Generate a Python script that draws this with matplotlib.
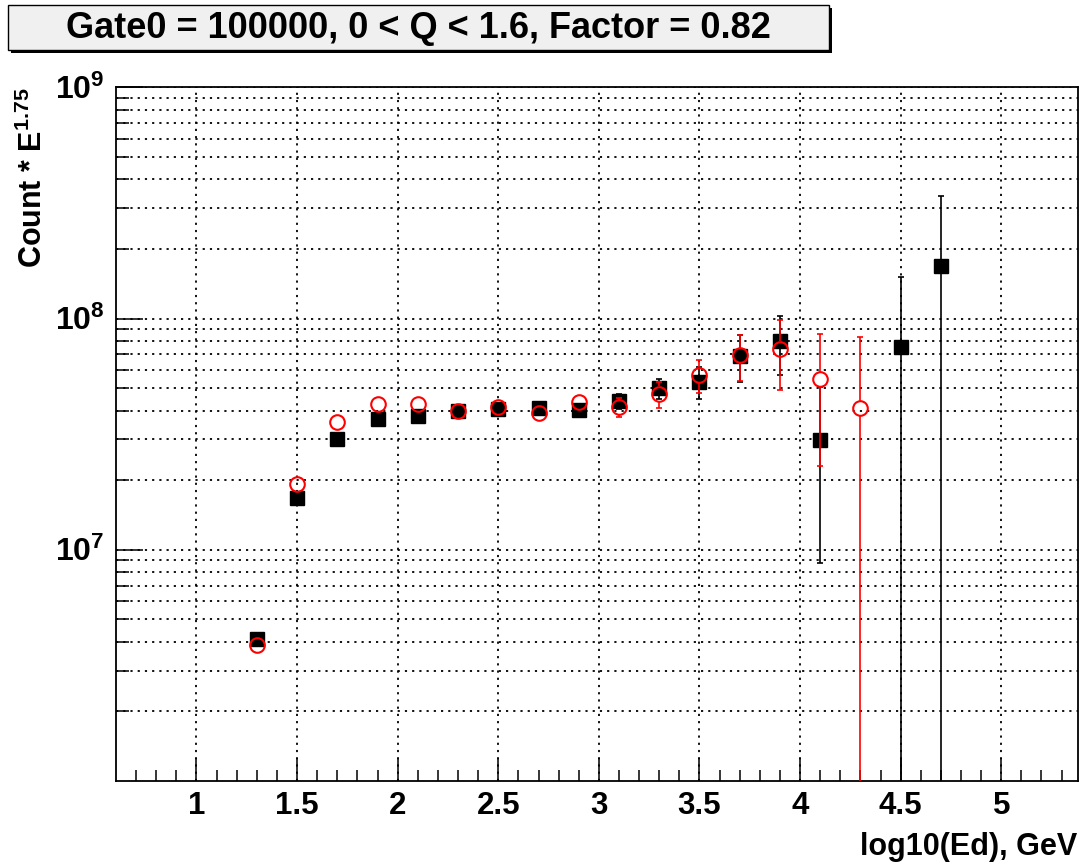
import matplotlib
matplotlib.use('Agg')
import matplotlib.pyplot as plt
import numpy as np
from matplotlib.patches import Rectangle
from matplotlib.ticker import FixedLocator, FixedFormatter, NullFormatter
import matplotlib.transforms as mtransforms

plt.rcParams['font.family'] = ['Liberation Sans', 'DejaVu Sans']
plt.rcParams['font.weight'] = 'bold'
plt.rcParams['mathtext.fontset'] = 'custom'
plt.rcParams['mathtext.rm'] = 'Liberation Sans:bold'
plt.rcParams['mathtext.bf'] = 'Liberation Sans:bold'
plt.rcParams['mathtext.it'] = 'Liberation Sans:bold'

# ---- data ----
x_black = [1.3, 1.5, 1.7, 1.9, 2.1, 2.3, 2.5, 2.7, 2.9, 3.1, 3.3, 3.5, 3.7, 3.9, 4.1, 4.5, 4.7]
y_black = [4.1e6, 1.68e7, 3.0e7, 3.66e7, 3.77e7, 3.98e7, 4.08e7, 4.1e7, 4.04e7, 4.4e7,
           5.0e7, 5.33e7, 6.9e7, 8.0e7, 2.98e7, 7.5e7, 1.68e8]
err_black = [0.1e6, 0.4e6, 0.6e6, 0.8e6, 0.9e6, 1.0e6, 1.2e6, 1.5e6, 1.8e6, 3.2e6,
             5.0e6, 8.6e6, 1.56e7, 2.3e7, 2.1e7, 7.6e7, 1.71e8]

x_red = [1.3, 1.5, 1.7, 1.9, 2.1, 2.3, 2.5, 2.7, 2.9, 3.1, 3.3, 3.5, 3.7, 3.9, 4.1, 4.3]
y_red = [3.88e6, 1.93e7, 3.58e7, 4.27e7, 4.27e7, 3.97e7, 4.15e7, 3.89e7, 4.35e7, 4.13e7,
         4.72e7, 5.7e7, 6.95e7, 7.4e7, 5.46e7, 4.1e7]
err_red = [0.1e6, 0.4e6, 0.6e6, 0.8e6, 0.9e6, 1.0e6, 1.2e6, 1.4e6, 1.8e6, 3.8e6,
           6.0e6, 9.5e6, 1.56e7, 2.5e7, 3.15e7, 4.2e7]

x_major = [1, 1.5, 2, 2.5, 3, 3.5, 4, 4.5, 5]
x_major_labels = ['1', '1.5', '2', '2.5', '3', '3.5', '4', '4.5', '5']
y_major = [1e7, 1e8, 1e9]
y_major_labels = ['$10^{7}$', '$10^{8}$', '$10^{9}$']

title = 'Gate0 = 100000, 0 < Q < 1.6, Factor = 0.82'
xlabel = 'log10(Ed), GeV'
ylabel = 'Count * E$^{1.75}$'

# ---- figure ----
W, H = 1088, 867
fig = plt.figure(figsize=(W / 100, H / 100), dpi=100)
fig.patch.set_facecolor('white')
ax_l, ax_r, ax_t, ax_b = 116, 1077.7, 87.3, 781
ax = fig.add_axes([ax_l / W, 1 - ax_b / H, (ax_r - ax_l) / W, (ax_b - ax_t) / H])
ax.set_yscale('log')
ax.set_xlim(0.6, 5.38)
ax.set_ylim(1e6, 1e9)

ax.xaxis.set_major_locator(FixedLocator(x_major))
ax.xaxis.set_major_formatter(FixedFormatter(x_major_labels))
ax.xaxis.set_minor_locator(FixedLocator(np.round(np.arange(0.7, 5.35, 0.1), 2)))
ax.yaxis.set_major_locator(FixedLocator(y_major))
ax.yaxis.set_major_formatter(FixedFormatter(y_major_labels))
yminor = [k * 10.0 ** n for n in (6, 7, 8) for k in range(2, 10)]
ax.yaxis.set_minor_locator(FixedLocator(yminor))
ax.yaxis.set_minor_formatter(NullFormatter())

ax.tick_params(which='both', direction='in', top=False, right=False, width=1.1, color='black')
ax.tick_params(axis='x', which='major', length=16.5, labelsize=22.5, pad=7.5)
ax.tick_params(axis='x', which='minor', length=8)
ax.tick_params(axis='y', which='major', length=19.5, labelsize=23, pad=8)
ax.tick_params(axis='y', which='minor', length=9)
for s in ax.spines.values():
    s.set_linewidth(1.3)

grid_style = dict(color='black', linestyle=(0, (1.2, 2.8)), linewidth=1.3)
ax.grid(True, axis='x', which='major', **grid_style)
ax.grid(True, axis='y', which='both', **grid_style)
ax.set_axisbelow(True)

offset = mtransforms.ScaledTranslation(0, 0.13, fig.dpi_scale_trans)
for lbl in ax.get_yticklabels():
    lbl.set_verticalalignment('top')
    lbl.set_transform(lbl.get_transform() + offset)

# black squares
ax.errorbar(x_black, y_black, yerr=err_black, fmt='s', color='black', ms=10,
            ecolor='black', elinewidth=1.2, capsize=2.5, capthick=1.2, zorder=3)

# red open circles, error bars drawn only outside the marker
xr = np.array(x_red)
yr = np.array(y_red)
er = np.array(err_red)
dec_px = (ax_b - ax_t) / 3.0
gap = 10 ** (7.5 / dec_px)
hi = yr + er
lo = yr - er
show_hi = hi > yr * gap
show_lo = (lo < yr / gap)
ax.vlines(xr[show_hi], (yr * gap)[show_hi], hi[show_hi], color='red', linewidth=1.2, zorder=4)
ax.vlines(xr[show_lo], np.where(lo > 0, lo, 1e3)[show_lo], (yr / gap)[show_lo],
          color='red', linewidth=1.2, zorder=4)
ax.plot(xr[show_hi], hi[show_hi], linestyle='none', marker='_', ms=4.5, mew=1.2,
        color='red', zorder=4)
cap_lo = show_lo & (lo > 0)
ax.plot(xr[cap_lo], lo[cap_lo], linestyle='none', marker='_', ms=4.5, mew=1.2,
        color='red', zorder=4)
ax.plot(xr, yr, linestyle='none', marker='o', ms=10.5, mfc='none', mec='red', mew=1.5, zorder=5)

# title box with shadow
bx0, by0, bx1, by1 = 8, 5, 829, 50
sh = 3
fig.add_artist(Rectangle(((bx0 + sh) / W, 1 - (by1 + sh) / H), (bx1 - bx0) / W, (by1 - by0) / H,
                         transform=fig.transFigure, facecolor='black', edgecolor='black', lw=0))
fig.add_artist(Rectangle((bx0 / W, 1 - by1 / H), (bx1 - bx0) / W, (by1 - by0) / H,
                         transform=fig.transFigure, facecolor='#f0f0f0', edgecolor='black', lw=1.0))
fig.text((bx0 + bx1) / 2 / W, 1 - 29 / H, title, ha='center', va='center',
         fontsize=26, fontweight='bold')

fig.text(33 / W, 1 - 87 / H, ylabel, rotation=90, ha='center', va='top',
         fontsize=22, fontweight='bold')
fig.text(1077 / W, 1 - 855 / H, xlabel, ha='right', va='baseline',
         fontsize=22, fontweight='bold')

fig.savefig('out.png', dpi=100)
